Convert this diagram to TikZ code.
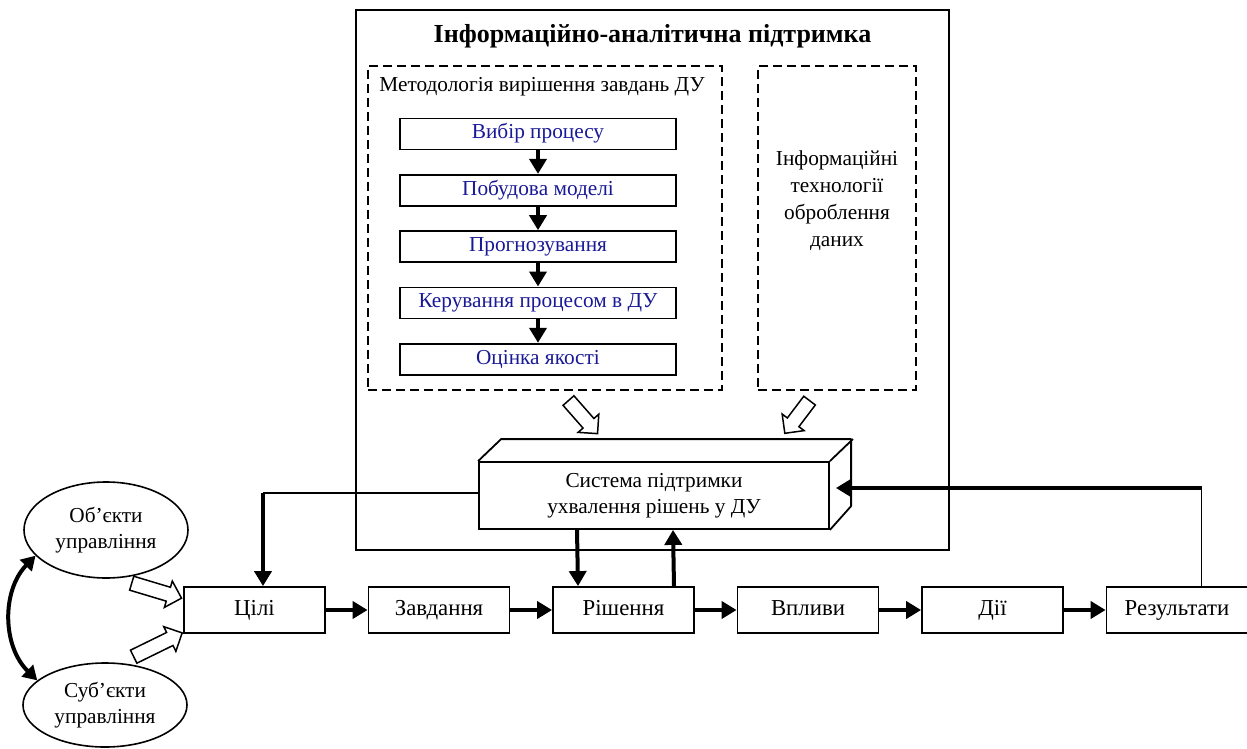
\documentclass[tikz,border=0pt]{standalone}
\usepackage{fontspec}
\setmainfont{Liberation Serif}
\usetikzlibrary{positioning,arrows.meta,shapes.geometric,shapes.arrows}
\definecolor{stepblue}{RGB}{25,25,150}
\tikzset{
  box/.style={draw, line width=1.8pt, minimum width=141pt, minimum height=46pt, inner sep=2pt, font=\fontsize{22.8}{27}\selectfont, text height=15.5pt, text depth=4.5pt},
  mbox/.style={draw, line width=1.8pt, minimum width=276pt, minimum height=31pt, inner sep=0pt, text=stepblue, text height=14.5pt, text depth=4.5pt},
  dashbox/.style={draw, line width=2.8pt, dash pattern=on 9pt off 5pt},
  actor/.style={draw, ellipse, line width=1.6pt, minimum width=164pt, inner sep=0pt, align=center},
  flow/.style={line width=4pt, -{Triangle[length=15pt,width=17pt]}},
  dflow/.style={line width=4pt, {Triangle[length=14pt,width=16pt]}-{Triangle[length=14pt,width=16pt]}},
  thinline/.style={line width=1.8pt},
  hollow/.style={draw, line width=1.5pt, fill=white, single arrow, single arrow head extend=6.5pt, inner xsep=0pt, inner ysep=6.5pt, anchor=tail}
}
\begin{document}
\begin{tikzpicture}[x=1pt, y=-1pt, font=\fontsize{21.3}{26}\selectfont, node distance=23.5pt]
\useasboundingbox (0,0) rectangle (1247,749);

\node[draw, line width=2pt, minimum width=593pt, minimum height=540pt] (info) at (652.5,280) {};
\node[font=\fontsize{26}{30}\selectfont\bfseries] (infotitle) at (652.5,36) {Інформаційно-аналітична підтримка};

\node[dashbox, minimum width=354pt, minimum height=324pt] (meth) at (545,228) {};
\node (methtitle) at (542,87) {Методологія вирішення завдань ДУ};
\node[mbox] (proc) at (538,134) {Вибір процесу};
\node[mbox, below=of proc] (model) {Побудова моделі};
\node[mbox, below=of model] (forecast) {Прогнозування};
\node[mbox, below=of forecast] (control) {Керування процесом в ДУ};
\node[mbox, below=of control] (quality) {Оцінка якості};
\draw[flow] (proc) -- (model);
\draw[flow] (model) -- (forecast);
\draw[flow] (forecast) -- (control);
\draw[flow] (control) -- (quality);

\node[dashbox, minimum width=158pt, minimum height=324pt] (itech) at (837,228) {};
\node[align=center, font=\fontsize{21.3}{27}\selectfont] (itechtext) at (837,201) {Інформаційні\\технології\\оброблення\\даних};

\node[draw, line width=1.8pt, fill=white, minimum width=350pt, minimum height=67pt, align=center] (dss) at (654,495.5) {Система підтримки\\ухвалення рішень у ДУ};
\draw[line width=1.8pt, line join=round] (dss.north west) -- ++(23,-22) -- ++(350,0) -- ++(0,67) -- (dss.south east);
\draw[line width=1.8pt] (dss.north east) -- ++(23,-22);

\node[hollow, rotate=-48.7, minimum height=44pt] (hmeth) at (568,400) {};
\node[hollow, rotate=-127.1, minimum height=41pt] (htech) at (810,400) {};

\node[box] (goal) at (254.5,610) {Цілі};
\node[box, right=41.7pt of goal] (task) {Завдання};
\node[box, right=41.7pt of task] (dec) {Рішення};
\node[box, right=41.7pt of dec] (infl) {Впливи};
\node[box, right=41.7pt of infl] (act) {Дії};
\node[box, right=41.7pt of act] (res) {Результати};
\draw[flow] (goal) -- (task);
\draw[flow] (task) -- (dec);
\draw[flow] (dec) -- (infl);
\draw[flow] (infl) -- (act);
\draw[flow] (act) -- (res);

\draw[flow] ([xshift=-77pt]dss.south) -- ([xshift=-45.5pt]dec.north);
\draw[flow] ([xshift=50.5pt]dec.north) -- ([xshift=19pt]dss.south);

\coordinate (gin) at ([xshift=8.5pt]goal.north);
\coordinate (dssl) at ([yshift=2.5pt]dss.west);
\draw[thinline] (dssl) -- (dssl -| gin);
\draw[flow] (dssl -| gin) -- (gin);

\coordinate (fbin) at ([shift={(6,-7.5)}]dss.east);
\coordinate (fbup) at ([xshift=24.5pt]res.north);
\draw[thinline] (fbup) -- (fbup |- fbin);
\draw[flow] (fbup |- fbin) -- (fbin);

\node[actor, minimum height=96pt] (obj) at (106,530) {Об’єкти\\управління};
\node[actor, minimum height=84pt] (subj) at (105,705) {Суб’єкти\\управління};
\draw[dflow] (obj.200) to[bend right=45] (subj.160);

\node[hollow, rotate=-16.7, minimum height=52pt] (hobj) at (131,583) {};
\node[hollow, rotate=26.1, minimum height=54pt] (hsubj) at (133,657) {};
\end{tikzpicture}
\end{document}
